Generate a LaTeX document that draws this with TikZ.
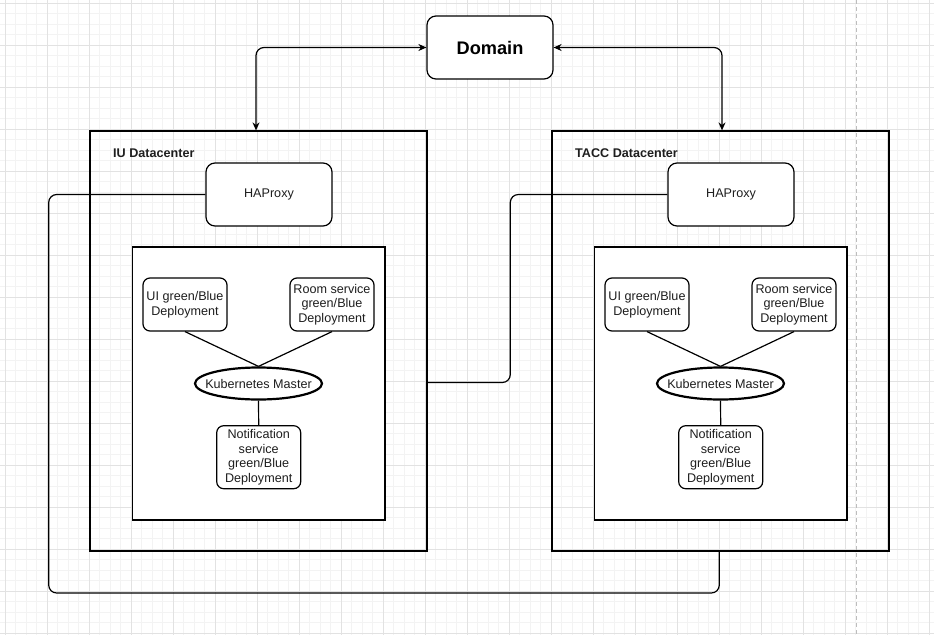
\documentclass[tikz,border=0pt]{standalone}
\usepackage{fontspec}
\setmainfont{Liberation Sans}
\usetikzlibrary{arrows.meta,shapes.geometric}
\definecolor{minorgrid}{HTML}{F3F3F3}
\definecolor{majorgrid}{HTML}{E2E2E2}
\definecolor{dashgray}{HTML}{BDBDBD}
\definecolor{txt}{HTML}{1E1E1E}
\tikzset{
  box/.style={draw, line width=1.2pt, fill=white, inner sep=0pt, align=center,
    font=\fontsize{12.6}{14.5}\selectfont, text=txt},
  rbox/.style={box, rounded corners=7pt},
  frame/.style={draw, line width=1.2pt, inner sep=0pt},
  kube/.style={box, ellipse, line width=2.2pt},
  conn/.style={line width=1.2pt, rounded corners=8pt},
  link/.style={line width=1.2pt},
  dclabel/.style={anchor=west, inner sep=0pt, text=txt,
    font=\fontsize{12.6}{15}\selectfont\bfseries},
  biarrow/.style={{Stealth[length=8pt,width=7pt]}-{Stealth[length=8pt,width=7pt]}},
}
\newcommand\dcenter[3]{%
  \begin{scope}[xshift=#2pt]
    \node[frame, minimum width=337pt, minimum height=420pt] (#1out) at (258.5,341) {};
    \node[dclabel] (#1lbl) at (113,153) {#3};
    \node[rbox, rounded corners=9pt, minimum width=126pt, minimum height=63pt] (#1hap) at (269,194.5) {HAProxy};
    \node[box, minimum width=252.3pt, minimum height=273pt] (#1in) at (258.85,383.5) {};
    \node[rbox, minimum width=84pt, minimum height=53pt] (#1ui) at (185,304.5) {UI green/Blue\\Deployment};
    \node[rbox, minimum width=84pt, minimum height=53pt] (#1room) at (332,304.5) {Room service\\green/Blue\\Deployment};
    \node[kube, minimum width=127pt, minimum height=32pt] (#1kube) at (258.5,383.5) {\makebox[0pt]{Kubernetes Master}};
    \node[rbox, minimum width=84pt, minimum height=63pt] (#1notif) at (258.7,457.2) {Notification\\service\\green/Blue\\Deployment};
    \draw[link] (#1ui.south) -- (#1kube.north);
    \draw[link] (#1room.south) -- (#1kube.north);
    \draw[link] (#1kube.south) -- (#1notif.north);
  \end{scope}%
}
\begin{document}
\begin{tikzpicture}[x=1pt,y=-1pt]
  \useasboundingbox (0,0) rectangle (934,635);
  \fill[white] (0,0) rectangle (934,635);
  % grid
  \foreach \i in {0,...,88} \draw[minorgrid, line width=0.8pt] ({5.3+10.5*\i},0) -- ({5.3+10.5*\i},635);
  \foreach \i in {0,...,60} \draw[minorgrid, line width=0.8pt] (0,{3.3+10.5*\i}) -- (934,{3.3+10.5*\i});
  \foreach \i in {0,...,22} \draw[majorgrid, line width=0.9pt] ({5.3+42*\i},0) -- ({5.3+42*\i},635);
  \foreach \i in {0,...,15} \draw[majorgrid, line width=0.9pt] (0,{3.3+42*\i}) -- (934,{3.3+42*\i});
  \draw[dashgray, line width=1pt, dash pattern=on 4pt off 3pt] (856.7,0) -- (856.7,635);

  % domain
  \node[rbox, rounded corners=9pt, minimum width=126pt, minimum height=63pt,
        font=\fontsize{18.2}{20}\selectfont\bfseries, text=black] (domain) at (490,47.5) {Domain};

  \dcenter{iu}{0}{IU Datacenter}
  \dcenter{tacc}{462}{TACC Datacenter}

  % connectors
  \draw[conn, biarrow] (domain.west) -| ([xshift=-2.5pt]iuout.north);
  \draw[conn, biarrow] (domain.east) -| ([xshift=1.5pt]taccout.north);

  \coordinate (loopA) at (48.7,593);
  \draw[conn] (iuhap.west) -| (loopA) -| ([xshift=-1.2pt]taccout.south);

  \coordinate (loopB) at (510.3,382.5);
  \draw[conn] (tacchap.west) -| (loopB) -- (loopB -| iuout.east);
\end{tikzpicture}
\end{document}
